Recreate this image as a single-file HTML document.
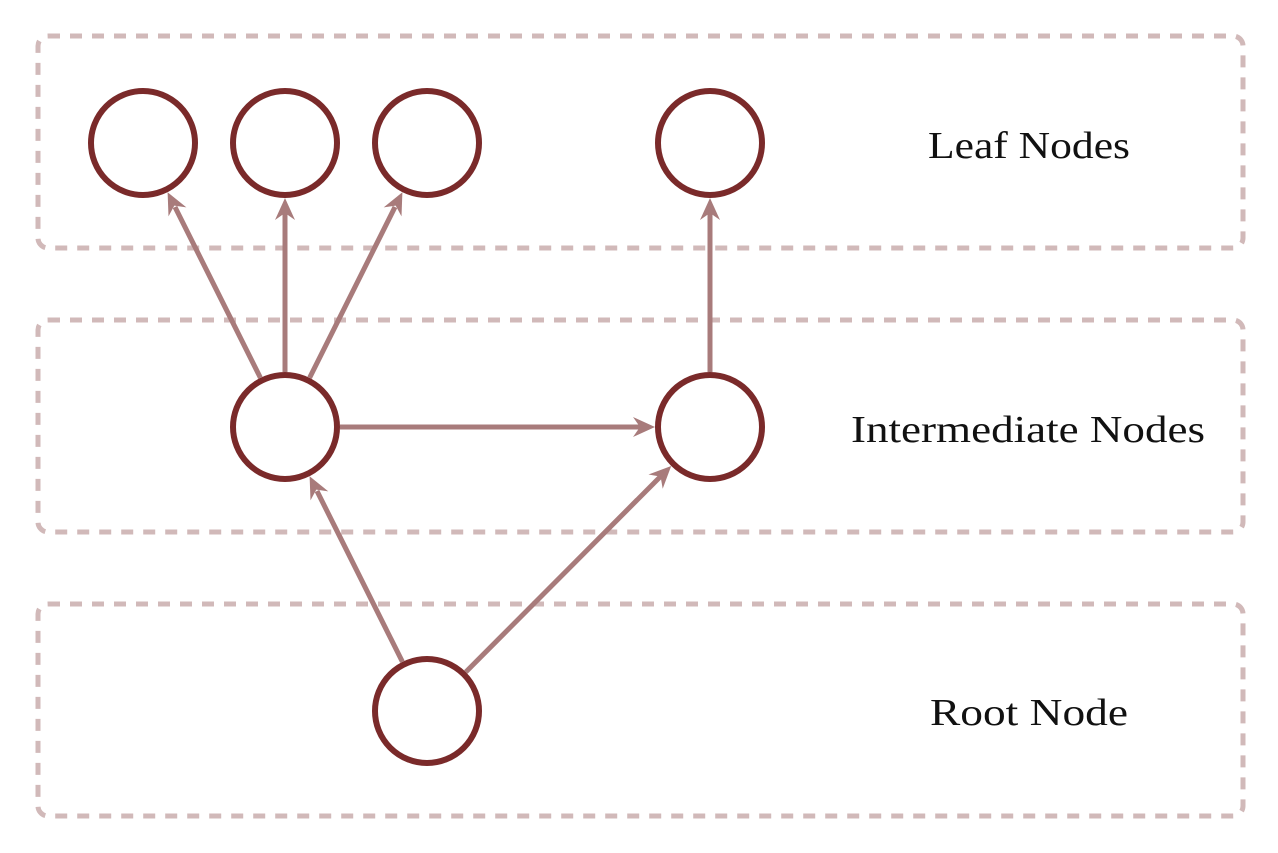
<!DOCTYPE html>
<html><head><meta charset="utf-8"><style>
html,body{margin:0;padding:0;background:#fff;}
svg{display:block}
text{font-family:"Liberation Serif",serif;font-size:38px;fill:#111}
</style></head><body>
<svg width="1278" height="853" viewBox="0 0 1278 853">
<g fill="none" stroke="#d1b9b9" stroke-width="5" stroke-dasharray="12 10">
<rect x="38" y="36" width="1205" height="212" rx="10"/>
<rect x="38" y="320" width="1205" height="212" rx="10"/>
<rect x="38" y="604" width="1205" height="212" rx="10"/>
</g>
<g stroke="#a87b7b" stroke-width="5" fill="none">
<line x1="260.4" y1="377.8" x2="175" y2="207"/>
<line x1="285" y1="372" x2="285" y2="212"/>
<line x1="309.6" y1="377.8" x2="395" y2="207"/>
<line x1="710" y1="372" x2="710" y2="212"/>
<line x1="340" y1="427" x2="642" y2="427"/>
<line x1="402.4" y1="661.8" x2="317" y2="491"/>
<line x1="465.8" y1="672" x2="661" y2="476"/>
</g>
<g fill="#a87b7b" stroke="none">
<polygon points="167.6,192.2 186.4,207.4 174.3,205.6 168.5,216.4"/>
<polygon points="285,198 295,220 285,213 275,220"/>
<polygon points="402.4,192.2 401.5,216.4 395.7,205.6 383.7,207.4"/>
<polygon points="710,198 720,220 710,213 700,220"/>
<polygon points="655,427 633,417 640,427 633,437"/>
<polygon points="309.6,476.2 328.3,491.4 316.3,489.6 310.5,500.4"/>
<polygon points="671.2,466 662.7,488.7 660.6,476.6 648.5,474.5"/>
</g>
<g fill="#fff" stroke="#7a2a2a" stroke-width="6">
<circle cx="143" cy="143" r="52"/>
<circle cx="285" cy="143" r="52"/>
<circle cx="427" cy="143" r="52"/>
<circle cx="710" cy="143" r="52"/>
<circle cx="285" cy="427" r="52"/>
<circle cx="710" cy="427" r="52"/>
<circle cx="427" cy="711" r="52"/>
</g>
<text x="928" y="158" textLength="202" lengthAdjust="spacingAndGlyphs">Leaf Nodes</text>
<text x="851" y="442" textLength="354" lengthAdjust="spacingAndGlyphs">Intermediate Nodes</text>
<text x="930" y="725" textLength="198" lengthAdjust="spacingAndGlyphs">Root Node</text>
</svg>
</body></html>
